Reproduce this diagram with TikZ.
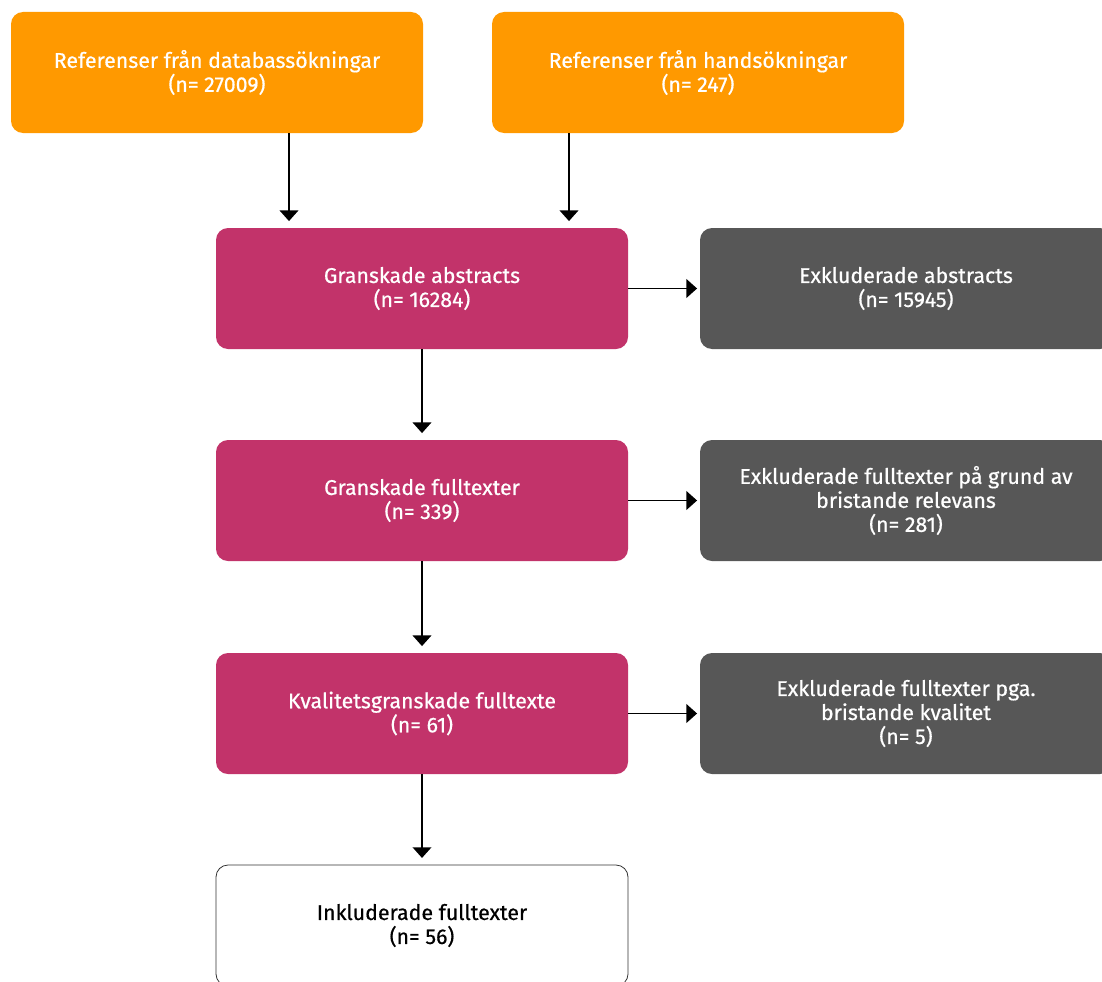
\documentclass[tikz,border=0pt]{standalone}
\usepackage{fontspec}
\setmainfont{Fira Sans}[FakeBold=0.6]
\usetikzlibrary{arrows.meta,calc}
\definecolor{SrcOrange}{HTML}{FF9900}
\definecolor{ScreenPink}{HTML}{C2336A}
\definecolor{ExclGray}{HTML}{575757}
\tikzset{
  srcbox/.style={rounded corners=9pt, fill=SrcOrange, text=white, minimum width=309pt, minimum height=90.75pt, align=center, font=\fontsize{16}{18}\selectfont},
  screenbox/.style={srcbox, fill=ScreenPink},
  exclbox/.style={srcbox, fill=ExclGray},
  finalbox/.style={srcbox, fill=white, draw=black!80, line width=0.6pt, text=black},
  arr/.style={-{Triangle[width=14pt,length=8pt]}, line width=1.2pt, draw=black, shorten >=5pt}
}
\begin{document}
\begin{tikzpicture}[x=0.75pt,y=-0.75pt]
\useasboundingbox (0,0) rectangle (1102,981);
% sources
\node[srcbox] (db) at (217,72.5) {Referenser från databassökningar\\(n= 27009)};
\node[srcbox] (hand) at (698,72.5) {Referenser från handsökningar\\(n= 247)};
% screening steps
\node[screenbox] (abs) at (422,288.5) {Granskade abstracts\\(n= 16284)};
\node[screenbox] (full) at (422,500.5) {Granskade fulltexter\\(n= 339)};
\node[screenbox] (qual) at (422,713.5) {Kvalitetsgranskade fulltexte\\(n= 61)};
\node[finalbox] (incl) at (422,925.5) {Inkluderade fulltexter\\(n= 56)};
% exclusions
\node[exclbox] (exabs) at (906,288.5) {Exkluderade abstracts\\(n= 15945)};
\node[exclbox] (exfull) at (906,500.5) {Exkluderade fulltexter på grund av\\bristande relevans\\(n= 281)};
\node[exclbox] (exqual) at (906,713.5) {Exkluderade fulltexter pga.\\bristande kvalitet\\(n= 5)};
% arrows
\coordinate (dbout) at ($(db.south)+(72,0)$);
\coordinate (handout) at ($(hand.south)+(-129,0)$);
\draw[arr] (dbout) -- (dbout |- abs.north);
\draw[arr] (handout) -- (handout |- abs.north);
\draw[arr] (abs) -- (full);
\draw[arr] (full) -- (qual);
\draw[arr] (qual) -- (incl);
\draw[arr, shorten >=2pt] (abs) -- (exabs);
\draw[arr, shorten >=2pt] (full) -- (exfull);
\draw[arr, shorten >=2pt] (qual) -- (exqual);
\end{tikzpicture}
\end{document}
